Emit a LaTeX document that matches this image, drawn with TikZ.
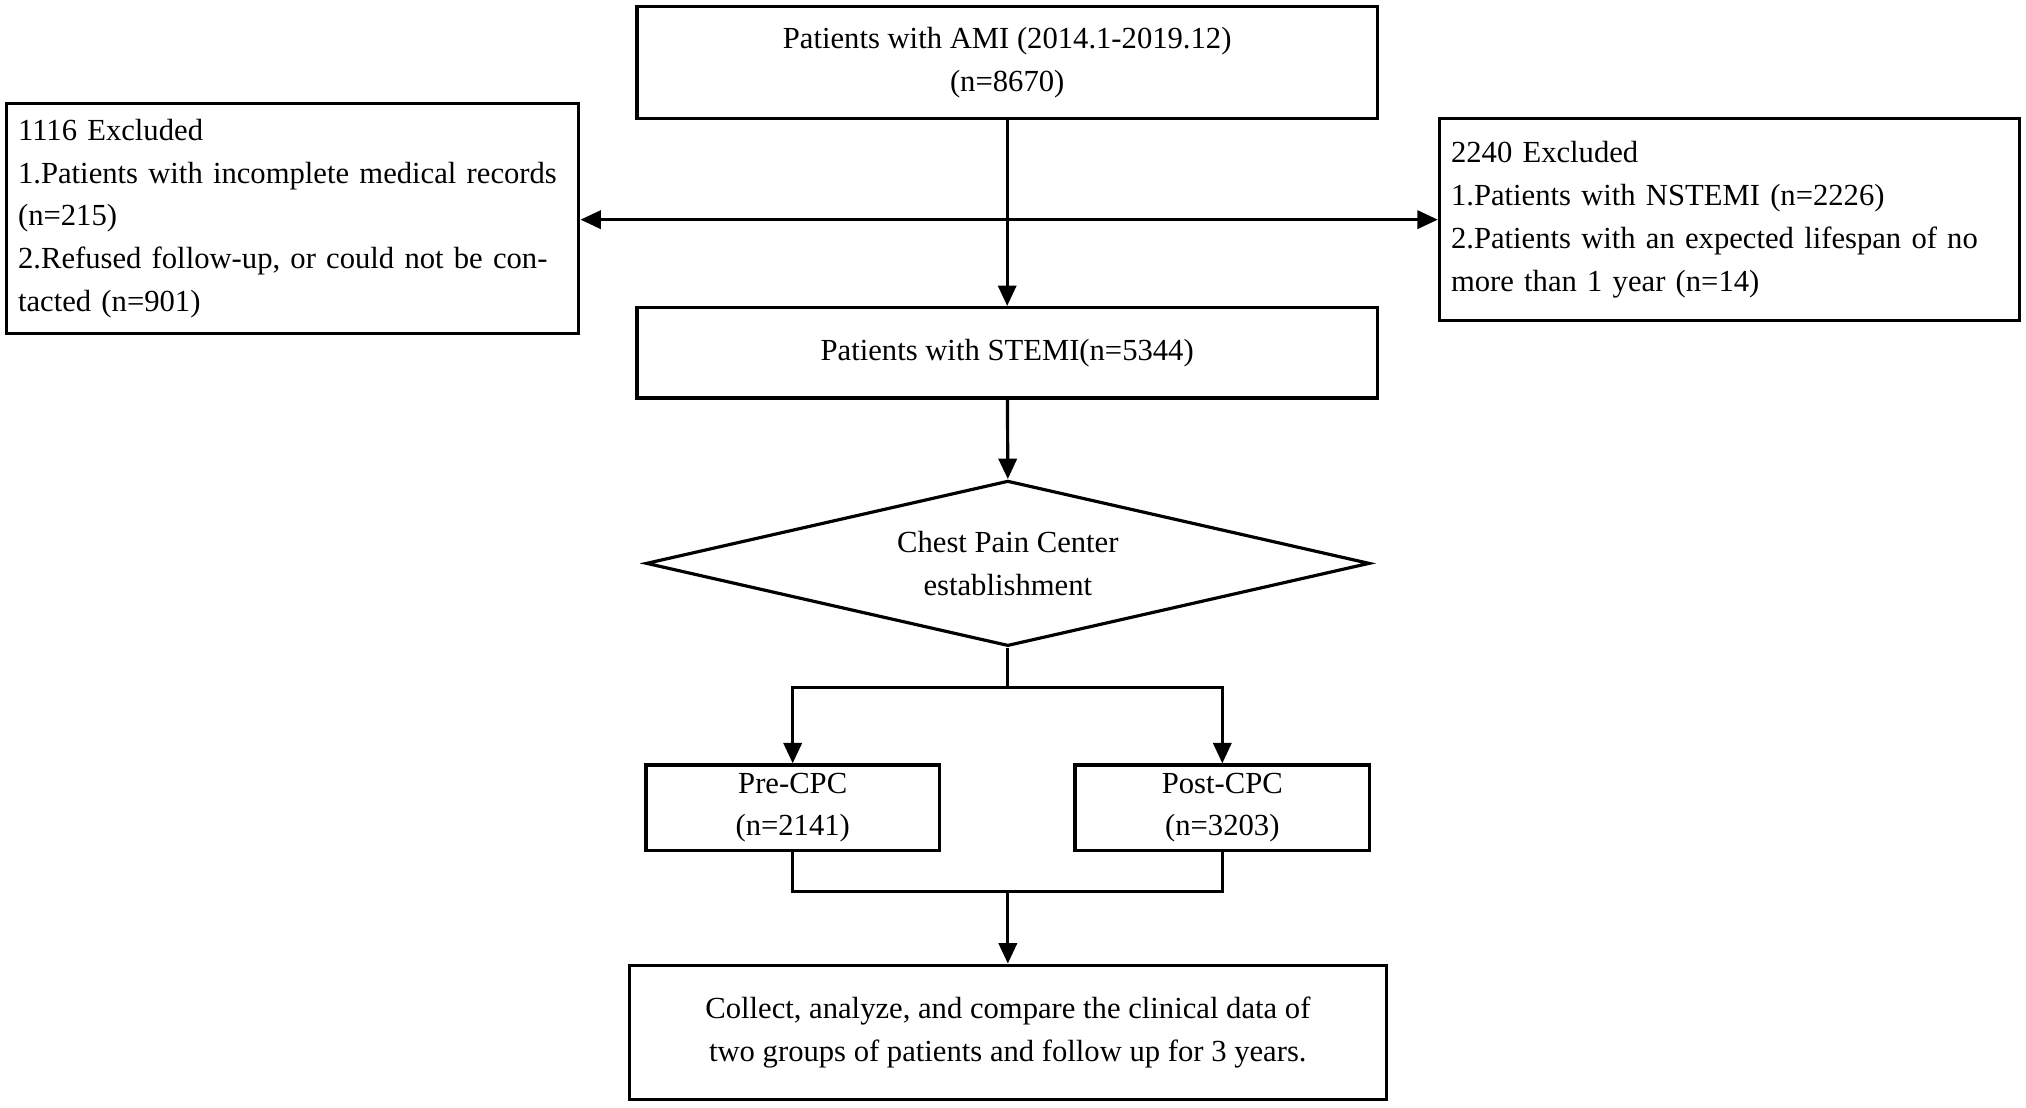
\documentclass[tikz,border=0pt]{standalone}
\usepackage{fontspec}
\setmainfont{Liberation Serif}
\usetikzlibrary{shapes.geometric,arrows.meta}
\begin{document}
\begin{tikzpicture}[x=0.02cm,y=-0.02cm,
  box/.style={draw,line width=1.4pt,inner sep=0pt,align=center,font=\fontsize{13.5pt}{18.8pt}\selectfont},
  lbox/.style={box,align=left,text width=#1},
  ln/.style={line width=1.4pt},
  arr/.style={ln,-{Triangle[length=9pt,width=8pt]}}]
\useasboundingbox (0,0) rectangle (1568,857.5);
\node[box,minimum width=573*0.02cm,minimum height=87*0.02cm] (ami) at (779.5,48.5) {Patients with AMI (2014.1-2019.12)\\(n=8670)};
\node[box,minimum width=443*0.02cm,minimum height=178*0.02cm,align=left,text width=425*0.02cm] (ex1) at (226.5,169) {1116 Excluded\\1.Patients with incomplete medical records (n=215)\\2.Refused follow-up, or could not be contacted (n=901)};
\node[box,minimum width=449*0.02cm,minimum height=156*0.02cm,align=left,text width=431*0.02cm] (ex2) at (1338.5,170) {2240 Excluded\\1.Patients with NSTEMI (n=2226)\\2.Patients with an expected lifespan of no more than 1 year (n=14)};
\node[box,minimum width=573*0.02cm,minimum height=70*0.02cm] (st) at (779.5,273) {Patients with STEMI(n=5344)};
\node[box,diamond,aspect=4.375,minimum width=560*0.02cm,minimum height=128*0.02cm] (cpc) at (780,436) {Chest Pain Center\\establishment};
\node[box,minimum width=227*0.02cm,minimum height=66*0.02cm] (pre) at (613.5,625) {Pre-CPC\\(n=2141)};
\node[box,minimum width=228*0.02cm,minimum height=66*0.02cm] (post) at (946,625) {Post-CPC\\(n=3203)};
\node[box,minimum width=586*0.02cm,minimum height=104*0.02cm] (end) at (780,799) {Collect, analyze, and compare the clinical data of\\two groups of patients and follow up for 3 years.};
\coordinate (mid) at (780,170);
\draw[arr] (ami) -- (st);
\draw[arr] (mid) -- (ex1.east |- mid);
\draw[arr] (mid) -- (ex2.west |- mid);
\draw[arr] (st) -- (cpc.north);
\coordinate (s1) at (780,532);
\draw[ln] (cpc.south) -- (s1);
\draw[arr] (s1) -| (pre.north);
\draw[arr] (s1) -| (post.north);
\coordinate (j) at (780,690);
\draw[ln] (pre.south) |- (j) -| (post.south);
\draw[arr] (j) -- (end.north);
\end{tikzpicture}
\end{document}
